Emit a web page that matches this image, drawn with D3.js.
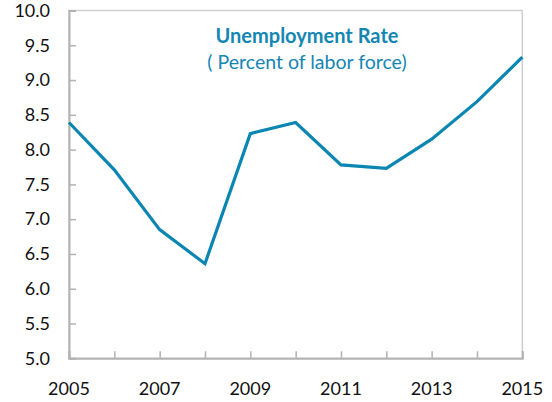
<!DOCTYPE html>
<html><head><meta charset="utf-8">
<script src="https://cdn.jsdelivr.net/npm/d3@7"></script>
<style>body{margin:0;background:#fff}svg{display:block}</style>
</head><body>
<script>
const years = [2005,2006,2007,2008,2009,2010,2011,2012,2013,2014,2015];
const rates = [8.39,7.71,6.85,6.36,8.23,8.39,7.78,7.73,8.15,8.69,9.33];
const yTicks = [5.0,5.5,6.0,6.5,7.0,7.5,8.0,8.5,9.0,9.5,10.0];
const xTickLabels = [2005,2007,2009,2011,2013,2015];
const title = "Unemployment Rate";
const subtitle = "( Percent of labor force)";

const W=552,H=402;
const m={l:69,r:29.7,t:10.5,b:43.7};
const svg=d3.select("body").append("svg").attr("width",W).attr("height",H);
const x=d3.scaleLinear().domain([2005,2015]).range([m.l,W-m.r]);
const y=d3.scaleLinear().domain([5,10]).range([H-m.b,m.t]);
const font="Lato, 'Open Sans', sans-serif";
const axisCol="#b3b3b3";

svg.append("rect").attr("x",m.l).attr("y",m.t).attr("width",x(2015)-m.l).attr("height",y(5)-m.t)
  .attr("fill","none").attr("stroke","#cfcfcf").attr("stroke-width",1.5);

const yAx=svg.append("g").attr("transform",`translate(${m.l},0)`)
  .call(d3.axisRight(y).tickValues(yTicks).tickSize(7).tickFormat(""));
yAx.select(".domain").attr("stroke",axisCol).attr("stroke-width",2);
yAx.selectAll(".tick line").attr("stroke",axisCol).attr("stroke-width",1.5);

const xAx=svg.append("g").attr("transform",`translate(0,${y(5)})`)
  .call(d3.axisTop(x).tickValues(years).tickSize(7).tickFormat(""));
xAx.select(".domain").attr("stroke",axisCol).attr("stroke-width",2);
xAx.selectAll(".tick line").attr("stroke",axisCol).attr("stroke-width",1.5);

svg.append("g").selectAll("text").data(yTicks).join("text")
  .attr("x",50).attr("y",d=>y(d)).attr("dy","0.35em").attr("text-anchor","end")
  .attr("font-family",font).attr("font-size",18).attr("fill","#111")
  .text(d=>d.toFixed(1));
svg.append("g").selectAll("text").data(xTickLabels).join("text")
  .attr("x",d=>x(d)).attr("y",395).attr("text-anchor","middle")
  .attr("font-family",font).attr("font-size",18).attr("fill","#111")
  .text(d=>d);

const line=d3.line().x((d,i)=>x(years[i])).y(d=>y(d));
svg.append("path").datum(rates).attr("d",line).attr("fill","none")
  .attr("stroke","#0a86b2").attr("stroke-width",3.2).attr("stroke-linejoin","miter");

svg.append("text").attr("x",307).attr("y",43).attr("text-anchor","middle")
  .attr("font-family",font).attr("font-weight","bold").attr("font-size",20).attr("fill","#1486b3").text(title);
svg.append("text").attr("x",307).attr("y",69).attr("text-anchor","middle")
  .attr("font-family",font).attr("font-size",19.5).attr("fill","#1486b3").text(subtitle);
</script>
</body></html>
